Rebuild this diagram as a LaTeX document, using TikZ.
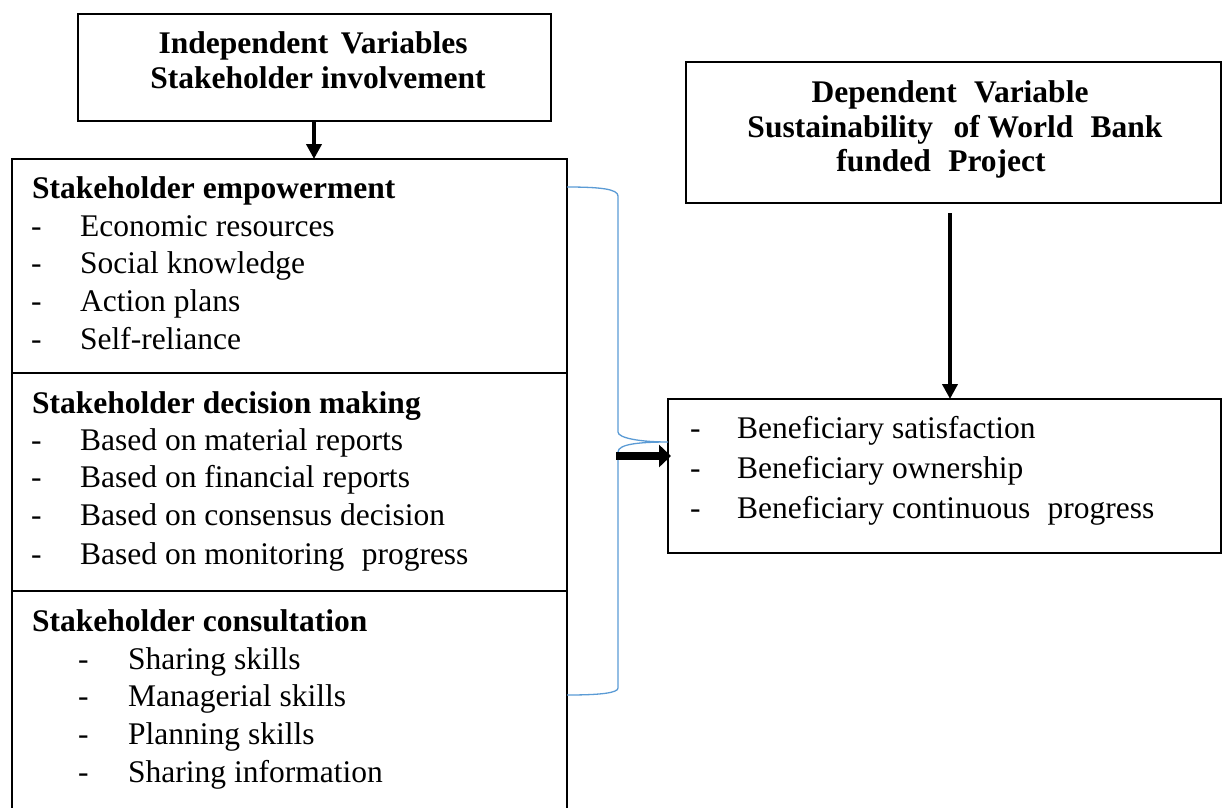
\documentclass[tikz,border=0pt]{standalone}
\usepackage{fontspec}
\setmainfont{Liberation Serif}
\usetikzlibrary{arrows.meta}
\definecolor{bracecol}{HTML}{5B9BD5}
\begin{document}
\begin{tikzpicture}[x=1pt,y=-1pt,
  txt/.style={anchor=base west,inner sep=0pt,font=\fontsize{31.5}{36}\selectfont},
  hd/.style={txt,font=\fontsize{31.5}{36}\selectfont\bfseries},
  ctr/.style={anchor=base,inner sep=0pt,font=\fontsize{31.5}{36}\selectfont\bfseries},
  boxline/.style={draw=black,line width=1.5pt},
  downarrow/.style={line width=4pt,-{Triangle[length=15pt,width=15pt]}},
  fatarrow/.style={line width=8pt,-{Triangle[length=12pt,width=22pt]}},
  brace/.style={draw=bracecol,line width=1.3pt}]
\useasboundingbox (0,0) rectangle (1222,807);
% independent variables box
\coordinate (ivtl) at (78,14);
\coordinate (ivbr) at (551,121);
\draw[boxline] (ivtl) rectangle (ivbr);
\node[ctr] (iv1) at (313,53) {Independent\hspace{0.4em}Variables};
\node[ctr] (iv2) at (318,88) {Stakeholder involvement};
\coordinate (ivb) at (314,121);
\coordinate (lbt) at (314,159);
\draw[boxline] (12,810) -- (12,159) -- (567,159) -- (567,810);
\draw[boxline] (12,373) -- (567,373);
\draw[boxline] (12,591) -- (567,591);
\draw[downarrow] (ivb) -- (lbt);
% section 1
\node[hd] (h1) at (32,198) {Stakeholder empowerment};
\foreach \y/\t [count=\i] in {236/Economic resources,273/Social knowledge,311/Action plans,349/Self-reliance}{
  \node[txt] (d1\i) at (31,\y) {-};
  \node[txt] (t1\i) at (80,\y) {\t};
}
% section 2
\node[hd] (h2) at (32,413) {Stakeholder decision making};
\foreach \y/\t [count=\i] in {450/Based on material reports,487/Based on financial reports,525/Based on consensus decision,564/Based on monitoring\hspace{0.3em} progress}{
  \node[txt] (d2\i) at (31,\y) {-};
  \node[txt] (t2\i) at (80,\y) {\t};
}
% section 3
\node[hd] (h3) at (32,631) {Stakeholder consultation};
\foreach \y/\t [count=\i] in {669/Sharing skills,706/Managerial skills,744/Planning skills,782/Sharing information}{
  \node[txt] (d3\i) at (78,\y) {-};
  \node[txt] (t3\i) at (128,\y) {\t};
}
% dependent variable box
\draw[boxline] (686,62) rectangle (1221.2,203);
\node[ctr] (dv1) at (950,102) {Dependent\hspace{0.3em} Variable};
\node[ctr] (dv2) at (955,137) {Sustainability\hspace{0.4em} of World\hspace{0.3em} Bank};
\node[ctr] (dv3) at (941,171) {funded\hspace{0.3em} Project};
\coordinate (dvb) at (950,213);
\coordinate (rbt) at (950,399);
\draw[downarrow] (dvb) -- (rbt);
% beneficiary box
\draw[boxline] (668,399) rectangle (1221.2,553);
\foreach \y/\t [count=\i] in {438/Beneficiary satisfaction,478/Beneficiary ownership,518/Beneficiary continuous\hspace{0.3em} progress}{
  \node[txt] (d4\i) at (690,\y) {-};
  \node[txt] (t4\i) at (737,\y) {\t};
}
% brace
\coordinate (bt) at (567,187);
\coordinate (bm) at (668,442);
\coordinate (bb) at (567,695);
\draw[brace] (bt) .. controls (600,187) and (618,189) .. (618,196) -- (618,432)
  .. controls (618,438) and (640,442) .. (bm)
  .. controls (640,442) and (618,444) .. (618,452) -- (618,688)
  .. controls (618,693) and (600,695) .. (bb);
\coordinate (fa) at (616,456);
\coordinate (fb) at (671,456);
\draw[fatarrow] (fa) -- (fb);
\end{tikzpicture}
\end{document}
